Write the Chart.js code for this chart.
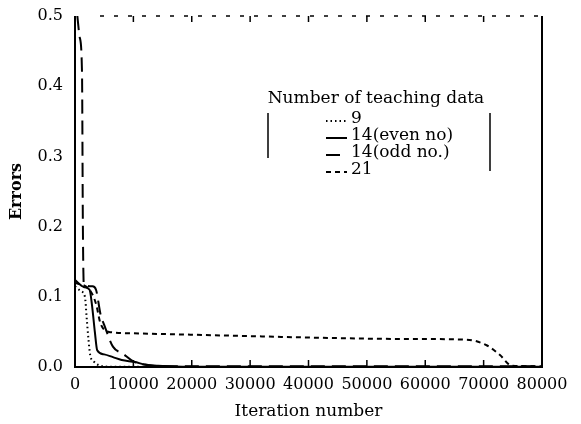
<!DOCTYPE html>
<html>
<head>
<meta charset="utf-8">
<script src="https://cdn.jsdelivr.net/npm/chart.js@4.4.0/dist/chart.umd.min.js"></script>
<style>
  html, body { margin: 0; padding: 0; background: #fff; }
  #wrap { width: 581px; height: 424px; }
</style>
</head>
<body>
<div id="wrap"><canvas id="grafico"></canvas></div>
<script>
var xTicks = [0, 10000, 20000, 30000, 40000, 50000, 60000, 70000, 80000];
var yTicks = [0, 0.1, 0.2, 0.3, 0.4, 0.5];

// 9 teaching data
var iter9 = [0, 1000, 1700, 2000, 2300, 2600, 3200, 4300, 6000, 15000];
var err9 = [0.115, 0.108, 0.1, 0.07, 0.04, 0.017, 0.008, 0.002, 0.0005, 0.0005];

// 14 (even no)
var iterPar = [0, 1500, 2500, 2900, 3400, 3800, 5000, 6500, 8000, 10300, 12200, 15000, 18400, 80000];
var errPar = [0.124, 0.114, 0.11, 0.089, 0.05, 0.024, 0.018, 0.014, 0.01, 0.007, 0.003, 0.0015, 0.0005, 0.0005];

// 14 (odd no.)
var iterImpar = [400, 800, 1200, 1350, 1500, 3000, 3600, 4400, 5000, 6500, 8200, 10000, 12500, 16000, 80000];
var errImpar = [0.5, 0.47, 0.42, 0.2, 0.118, 0.115, 0.11, 0.074, 0.06, 0.029, 0.019, 0.008, 0.003, 0.001, 0.001];

// 21 teaching data
var iter21 = [0, 2500, 3600, 4300, 5000, 5800, 10000, 20000, 30000, 40000, 55000, 67000, 70500, 72800, 74800, 80000];
var err21 = [0.12, 0.11, 0.09, 0.064, 0.053, 0.05, 0.048, 0.046, 0.044, 0.042, 0.04, 0.039, 0.031, 0.017, 0.002, 0.001];

var legendTitle = "Number of teaching data";
var nomes = ["9", "14(even no)", "14(odd no.)", "21"];
var tracos = [[1.5, 3], [], [14, 7], [5, 4]];

var fonte = "DejaVu Serif";

function pontos(xs, ys) {
  return xs.map(function (x, i) { return { x: x, y: ys[i] }; });
}

function serie(nome, xs, ys, traco) {
  return {
    label: nome,
    data: pontos(xs, ys),
    borderColor: "#000",
    borderWidth: 2,
    borderDash: traco,
    pointRadius: 0,
    fill: false,
    cubicInterpolationMode: "monotone",
  };
}

// moldura + marcas para dentro
var moldura = {
  id: "moldura",
  afterDraw: function (chart) {
    var ctx = chart.ctx;
    var a = chart.chartArea;
    var sx = chart.scales.x;
    ctx.save();
    ctx.strokeStyle = "#000";
    ctx.lineWidth = 2;
    ctx.setLineDash([]);
    ctx.beginPath();
    ctx.moveTo(a.left, a.top);
    ctx.lineTo(a.left, a.bottom);
    ctx.lineTo(a.right, a.bottom);
    ctx.lineTo(a.right, a.top);
    ctx.stroke();
    // borda de cima quase apagada
    ctx.lineWidth = 1.5;
    ctx.setLineDash([4, 10]);
    ctx.beginPath();
    ctx.moveTo(a.left + 25, a.top);
    ctx.lineTo(a.right, a.top);
    ctx.stroke();
    ctx.setLineDash([]);
    ctx.lineWidth = 1.5;
    xTicks.forEach(function (v) {
      if (v === 0 || v === 80000) return;
      var px = sx.getPixelForValue(v);
      ctx.beginPath();
      ctx.moveTo(px, a.bottom);
      ctx.lineTo(px, a.bottom - 7);
      ctx.moveTo(px, a.top);
      ctx.lineTo(px, a.top + 6);
      ctx.stroke();
    });
    ctx.restore();
  },
};

var legenda = {
  id: "legenda",
  afterDraw: function (chart) {
    var ctx = chart.ctx;
    ctx.save();
    ctx.fillStyle = "#000";
    ctx.strokeStyle = "#000";
    ctx.font = "17px '" + fonte + "'";
    ctx.textAlign = "center";
    ctx.textBaseline = "middle";
    ctx.fillText(legendTitle, 376, 99);
    ctx.textAlign = "left";
    var ys = [119, 136, 153, 170];
    nomes.forEach(function (n, i) {
      ctx.lineWidth = 2;
      ctx.setLineDash(tracos[i]);
      ctx.beginPath();
      ctx.moveTo(326, ys[i] + 2);
      ctx.lineTo(347, ys[i] + 2);
      ctx.stroke();
      ctx.fillText(n, 351, ys[i]);
    });
    ctx.setLineDash([]);
    ctx.lineWidth = 1.5;
    ctx.beginPath();
    ctx.moveTo(268, 113);
    ctx.lineTo(268, 158);
    ctx.moveTo(490, 113);
    ctx.lineTo(490, 171);
    ctx.stroke();
    ctx.restore();
  },
};

new Chart(document.getElementById("grafico"), {
  type: "line",
  data: {
    datasets: [
      serie(nomes[0], iter9, err9, tracos[0]),
      serie(nomes[1], iterPar, errPar, tracos[1]),
      serie(nomes[2], iterImpar, errImpar, tracos[2]),
      serie(nomes[3], iter21, err21, tracos[3]),
    ],
  },
  options: {
    responsive: true,
    maintainAspectRatio: false,
    animation: false,
    layout: { padding: { left: 0, right: 39, top: 16, bottom: 0 } },
    plugins: { legend: { display: false }, tooltip: { enabled: false } },
    scales: {
      x: {
        type: "linear",
        min: 0,
        max: 80000,
        afterBuildTicks: function (s) {
          s.ticks = xTicks.map(function (v) { return { value: v }; });
        },
        afterFit: function (s) {
          s.height = 57;
          s.paddingLeft = 0;
          s.paddingRight = 0;
        },
        grid: { display: false, drawTicks: false },
        border: { display: false },
        ticks: {
          color: "#000",
          padding: 8,
          maxRotation: 0,
          autoSkip: false,
          font: { family: fonte, size: 16 },
          callback: function (v) { return String(v); },
        },
        title: {
          display: true,
          text: "Iteration number",
          color: "#000",
          font: { family: fonte, size: 17 },
          padding: { top: 0, bottom: 2 },
        },
      },
      y: {
        min: 0,
        max: 0.5,
        afterBuildTicks: function (s) {
          s.ticks = yTicks.map(function (v) { return { value: v }; });
        },
        afterFit: function (s) {
          s.width = 75;
          s.paddingTop = 0;
          s.paddingBottom = 0;
        },
        grid: { display: false, drawTicks: false },
        border: { display: false },
        ticks: {
          color: "#000",
          padding: 12,
          font: { family: fonte, size: 16 },
          callback: function (v) { return v.toFixed(1); },
        },
        title: {
          display: true,
          text: "Errors",
          color: "#000",
          font: { family: fonte, size: 16, weight: "bold" },
          padding: { top: 7, bottom: 0 },
        },
      },
    },
  },
  plugins: [moldura, legenda],
});
</script>
</body>
</html>
